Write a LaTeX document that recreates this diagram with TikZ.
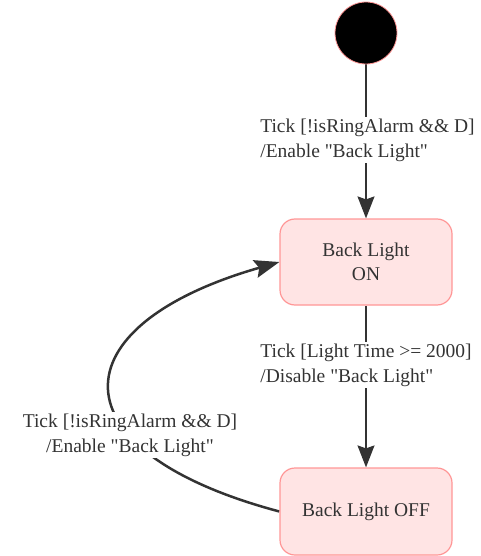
\documentclass[tikz,border=0pt]{standalone}
\usepackage{fontspec}
\setmainfont{Liberation Serif}[Ligatures=TeXOff]
\usepackage{tikz}
\usetikzlibrary{arrows.meta}
\definecolor{statefill}{RGB}{255,228,228}
\definecolor{stateline}{RGB}{255,150,150}
\definecolor{edgegray}{RGB}{51,51,51}
\tikzstyle{initial}=[circle,fill=black,draw=stateline,line width=0.8,minimum size=62pt,inner sep=0pt]
\tikzstyle{state}=[rectangle,rounded corners=15pt,fill=statefill,draw=stateline,line width=1.2,minimum width=172pt,minimum height=86pt,align=center,text=edgegray,font=\fontsize{19.5}{24}\selectfont]
\tikzstyle{guard}=[fill=white,inner sep=2pt,text=edgegray,font=\fontsize{19.5}{25}\selectfont]
\tikzstyle{trans}=[-{Stealth[length=22pt,width=17pt,inset=3pt]},draw=edgegray,line width=1.5]
\tikzstyle{backtrans}=[-{Stealth[length=25pt,width=18pt,inset=4pt]},draw=edgegray,line width=2.5]
\pgfdeclarelayer{edgelayer}
\pgfdeclarelayer{nodelayer}
\pgfsetlayers{edgelayer,nodelayer,main}

\begin{document}
\begin{tikzpicture}[x=1pt,y=-1pt]
	\useasboundingbox (0,0) rectangle (481,556);
	\begin{pgfonlayer}{nodelayer}
		\node [style=initial] (init) at (366, 33) {};
		\node [style=state] (on) at (366, 262) {Back Light\\ON};
		\node [style=state, minimum height=87pt] (off) at (366, 511.5) {Back Light OFF};
		\node [style=guard, align=left] (g1) at (367.5, 140) {Tick [!isRingAlarm \&\& D]\\/Enable "Back Light"};
		\node [style=guard, align=left] (g2) at (366, 365) {Tick [Light Time >= 2000]\\/Disable "Back Light"};
		\node [style=guard, align=center] (g3) at (130, 435) {Tick [!isRingAlarm \&\& D]\\/Enable "Back Light"};
	\end{pgfonlayer}
	\begin{pgfonlayer}{edgelayer}
		\draw [style=trans] (init) to (on);
		\draw [style=trans] (on) to (off);
		\draw [style=backtrans] (off.west) .. controls (52, 451) and (56, 326) .. (on.west);
	\end{pgfonlayer}
\end{tikzpicture}
\end{document}
